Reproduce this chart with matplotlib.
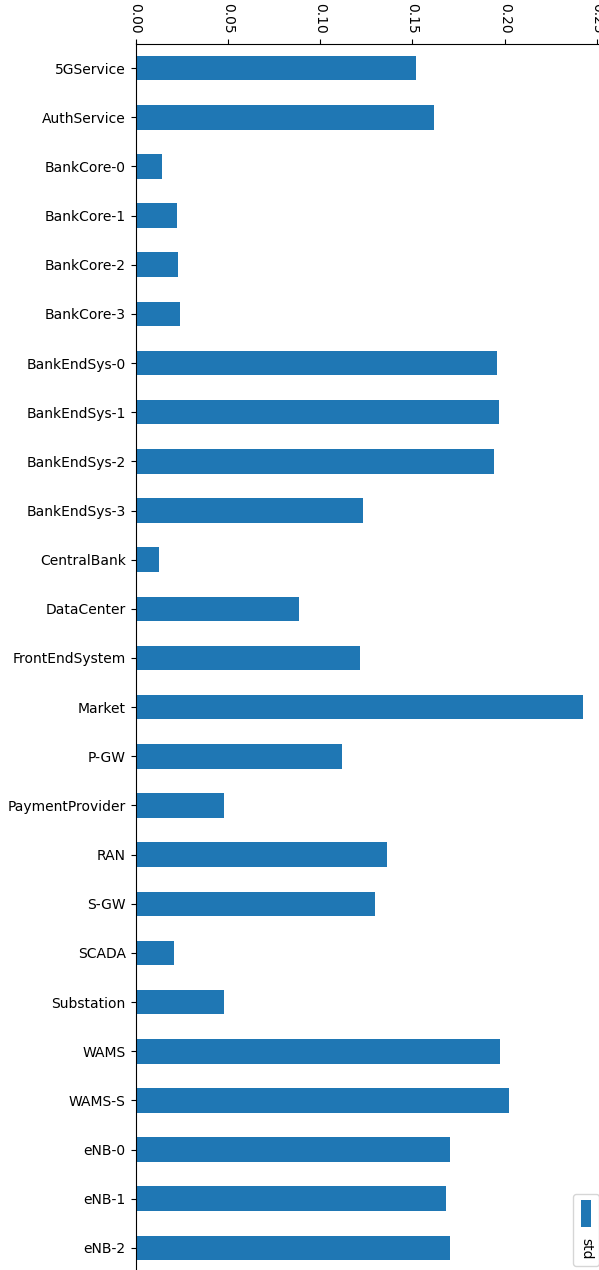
import numpy as np
import matplotlib
matplotlib.use('Agg')
import matplotlib.pyplot as plt
from matplotlib.offsetbox import AnchoredOffsetbox, VPacker, DrawingArea, TextArea
from matplotlib.patches import Rectangle

# std per component
names = ['5GService', 'AuthService', 'BankCore-0', 'BankCore-1', 'BankCore-2',
         'BankCore-3', 'BankEndSys-0', 'BankEndSys-1', 'BankEndSys-2',
         'BankEndSys-3', 'CentralBank', 'DataCenter', 'FrontEndSystem',
         'Market', 'P-GW', 'PaymentProvider', 'RAN', 'S-GW', 'SCADA',
         'Substation', 'WAMS', 'WAMS-S', 'eNB-0', 'eNB-1', 'eNB-2']
std = [0.1521, 0.1615, 0.0143, 0.0226, 0.0231, 0.0240, 0.1960, 0.1971,
       0.1940, 0.1230, 0.0127, 0.0887, 0.1216, 0.2425, 0.1117, 0.0481,
       0.1361, 0.1299, 0.0210, 0.0477, 0.1977, 0.2024, 0.1706, 0.1684,
       0.1706]
series = 'std'
ticks = [0.00, 0.05, 0.10, 0.15, 0.20, 0.25]

W, H = 599, 1270
fig = plt.figure(figsize=(W/100, H/100), dpi=100)
left, right, top, bottom = 135.5, 605.5, 43.5, 1272.5
ax = fig.add_axes([left/W, 1-bottom/H, (right-left)/W, (bottom-top)/H])

y = np.arange(len(names))
ax.barh(y, std, height=0.5, color='#1f77b4')
ax.set_yticks(y)
ax.set_yticklabels(names)
ax.set_ylim(len(names)-0.5, -0.5)
ax.set_xlim(0, max(std)*1.05)

ax.xaxis.tick_top()
ax.set_xticks(ticks)
ax.set_xticklabels(['{:.2f}'.format(t) for t in ticks], rotation=270)

# legend drawn sideways: handle on top, label below
da = DrawingArea(7, 20, 0, 0)
da.add_artist(Rectangle((0, 0), 7, 20, fc='#1f77b4', ec='none'))
txt = TextArea(series, textprops=dict(rotation=270, fontsize=10))
pack = VPacker(children=[da, txt], align='center', pad=0, sep=8)
box = AnchoredOffsetbox(loc='lower right', child=pack, pad=0.4,
                        borderpad=0.5, frameon=True)
box.patch.set_boxstyle('round,pad=0,rounding_size=0.2')
box.patch.set_edgecolor('0.8')
box.patch.set_facecolor('white')
box.patch.set_alpha(0.8)
ax.add_artist(box)

fig.savefig('out.png', dpi=100)
